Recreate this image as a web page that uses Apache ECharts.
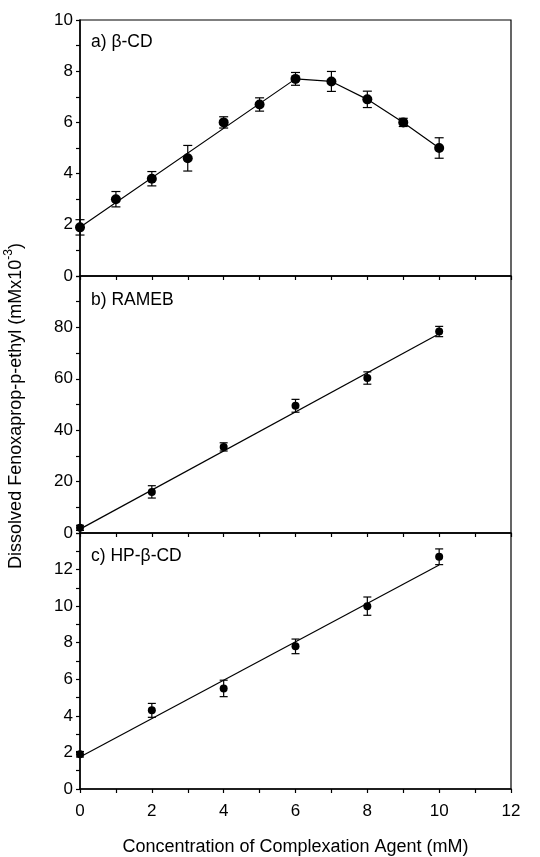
<!DOCTYPE html>
<html>
<head>
<meta charset="utf-8">
<script src="https://cdn.jsdelivr.net/npm/echarts@6/dist/echarts.min.js"></script>
<style>
  html, body { margin: 0; padding: 0; background: #fff; }
  #chart { width: 540px; height: 857px; }
</style>
</head>
<body>
<div id="chart"></div>
<script>
// a) beta-CD
const xA = [0, 1, 2, 3, 4, 5, 6, 7, 8, 9, 10]
const yA = [1.9, 3.0, 3.8, 4.6, 6.0, 6.7, 7.7, 7.6, 6.9, 6.0, 5.0]
const errA = [0.3, 0.3, 0.28, 0.5, 0.22, 0.26, 0.25, 0.39, 0.32, 0.16, 0.4]
const fitAx = [0, 6, 7, 8, 9, 10]
const fitAy = [1.9, 7.7, 7.6, 6.9, 6.0, 5.0]

// b) RAMEB
const xB = [0, 2, 4, 6, 8, 10]
const yB = [2.0, 16.0, 33.5, 49.5, 60.3, 78.4]
const errB = [1.0, 2.4, 1.6, 2.5, 2.4, 2.0]
const fitBx = [0, 10]
const fitBy = [1.5, 77.5]

// c) HP-beta-CD
const xC = [0, 2, 4, 6, 8, 10]
const yC = [1.9, 4.3, 5.5, 7.8, 10.0, 12.7]
const errC = [0.15, 0.38, 0.45, 0.4, 0.5, 0.43]
const fitCx = [0, 10]
const fitCy = [1.75, 12.25]

const xTicks = { min: 0, max: 12, interval: 2 }
const yLimits = [
  { min: 0, max: 10, interval: 2, hideTop: false },
  { min: 0, max: 100, interval: 20, hideTop: true },
  { min: 0, max: 14, interval: 2, hideTop: true }
]
const panelNames = ['a) β-CD', 'b) RAMEB', 'c) HP-β-CD']

const font = 'Liberation Sans, Arial, sans-serif'
const chart = echarts.init(document.getElementById('chart'))

const zip = (xs, ys) => xs.map((x, i) => [x, ys[i]])
const grids = [
  { left: 80, right: 29, top: 20, height: 256 },
  { left: 80, right: 29, top: 276, height: 257 },
  { left: 80, right: 29, top: 533, height: 256 }
].map(g => Object.assign(g, { show: true, borderColor: '#000', borderWidth: 1.2, backgroundColor: 'transparent' }))

const xAxes = [0, 1, 2].map(i => ({
  type: 'value',
  gridIndex: i,
  min: xTicks.min,
  max: xTicks.max,
  interval: xTicks.interval,
  splitLine: { show: false },
  axisLine: { lineStyle: { color: '#000', width: 1.5 } },
  axisTick: { length: 4, lineStyle: { color: '#000', width: 1.2 } },
  minorTick: { show: true, splitNumber: 2, length: 4, lineStyle: { color: '#000', width: 1.2 } },
  axisLabel: { show: i === 2, color: '#000', fontSize: 17, fontFamily: font, margin: 14 },
  name: i === 2 ? 'Concentration of Complexation Agent (mM)' : '',
  nameLocation: 'middle',
  nameGap: 49,
  nameTextStyle: { color: '#000', fontSize: 18, fontFamily: font }
}))

const yAxes = yLimits.map((l, i) => ({
  type: 'value',
  gridIndex: i,
  min: l.min,
  max: l.max,
  interval: l.interval,
  splitLine: { show: false },
  axisLine: { lineStyle: { color: '#000', width: 1.5 } },
  axisTick: { length: 4, lineStyle: { color: '#000', width: 1.2 } },
  minorTick: { show: true, splitNumber: 2, length: 4, lineStyle: { color: '#000', width: 1.2 } },
  axisLabel: {
    color: '#000', fontSize: 17, fontFamily: font, margin: 7,
    formatter: v => (l.hideTop && v === l.max) ? '' : String(v)
  }
}))

function errorSeries(idx, xs, ys, errs, cap) {
  return {
    type: 'custom',
    xAxisIndex: idx,
    yAxisIndex: idx,
    data: xs.map((x, i) => [x, ys[i] - errs[i], ys[i] + errs[i]]),
    renderItem: (params, api) => {
      const lo = api.coord([api.value(0), api.value(1)])
      const hi = api.coord([api.value(0), api.value(2)])
      const st = { stroke: '#000', lineWidth: 1.2 }
      return {
        type: 'group',
        children: [
          { type: 'line', shape: { x1: lo[0], y1: lo[1], x2: hi[0], y2: hi[1] }, style: st },
          { type: 'line', shape: { x1: lo[0] - cap, y1: lo[1], x2: lo[0] + cap, y2: lo[1] }, style: st },
          { type: 'line', shape: { x1: hi[0] - cap, y1: hi[1], x2: hi[0] + cap, y2: hi[1] }, style: st }
        ]
      }
    },
    z: 3
  }
}

function fitSeries(idx, xs, ys) {
  return {
    type: 'line', xAxisIndex: idx, yAxisIndex: idx,
    data: zip(xs, ys), symbol: 'none',
    lineStyle: { color: '#000', width: 1.2 }, z: 2, silent: true
  }
}

function pointSeries(idx, xs, ys, size) {
  return {
    type: 'scatter', xAxisIndex: idx, yAxisIndex: idx,
    data: zip(xs, ys), symbol: 'circle', symbolSize: size,
    itemStyle: { color: '#000', opacity: 1 }, z: 4
  }
}

chart.setOption({
  animation: false,
  grid: grids,
  xAxis: xAxes,
  yAxis: yAxes,
  series: [
    fitSeries(0, fitAx, fitAy), errorSeries(0, xA, yA, errA, 4.5), pointSeries(0, xA, yA, 10),
    fitSeries(1, fitBx, fitBy), errorSeries(1, xB, yB, errB, 4), pointSeries(1, xB, yB, 8),
    fitSeries(2, fitCx, fitCy), errorSeries(2, xC, yC, errC, 4), pointSeries(2, xC, yC, 8)
  ],
  graphic: [
    { type: 'text', left: 91, top: 33, style: { text: panelNames[0], fontSize: 17.5, fontFamily: font, fill: '#000' } },
    { type: 'text', left: 91, top: 291, style: { text: panelNames[1], fontSize: 17.5, fontFamily: font, fill: '#000' } },
    { type: 'text', left: 91, top: 547, style: { text: panelNames[2], fontSize: 17.5, fontFamily: font, fill: '#000' } },
    {
      type: 'text', x: 14, y: 406, rotation: Math.PI / 2,
      style: {
        text: '{n|Dissolved Fenoxaprop-p-ethyl (mMx10}{s|-3}{n|)}',
        align: 'center', verticalAlign: 'middle',
        rich: {
          n: { fontSize: 18, fontFamily: font, fill: '#000', lineHeight: 22, verticalAlign: 'bottom' },
          s: { fontSize: 12, fontFamily: font, fill: '#000', lineHeight: 22, verticalAlign: 'top' }
        }
      }
    }
  ]
})
</script>
</body>
</html>
